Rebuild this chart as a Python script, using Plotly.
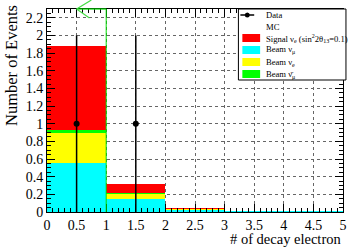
import plotly.graph_objects as go

# ---- data ----
bin_centers = [0.5, 1.5, 2.5, 3.5, 4.5]
beam_numu = [0.56, 0.143, 0.028, 0.003, 0.002]
beam_nue = [0.335, 0.067, 0.006, 0.0, 0.0]
beam_numubar = [0.03, 0.01, 0.005, 0.0, 0.0]
signal_nue = [0.955, 0.096, 0.002, 0.0, 0.0]
data_x = [0.5, 1.5]
data_y = [1, 1]
data_err = [1, 1]

series = [
    ("Beam ν<sub>μ</sub>", beam_numu, "#00FFFF"),
    ("Beam ν<sub>e</sub>", beam_nue, "#FFFF00"),
    ("Beam ν̄<sub>μ</sub>", beam_numubar, "#00FF00"),
    ("Signal ν<sub>e</sub> (sin<sup>2</sup>2θ<sub>13</sub>=0.1)", signal_nue, "#FF0000"),
]

W, H = 351, 249
L, R, T, B = 47, 4, 9, 37
PW, PH = W - L - R, H - T - B
YMAX = 2.3

def px2paper_x(px):
    return (px - L) / PW

def px2paper_y(py):
    return (H - B - py) / PH

FONT = "Liberation Serif, Times New Roman, serif"

fig = go.Figure()
for name, vals, col in series:
    fig.add_trace(go.Bar(x=bin_centers, y=vals, width=1.0, name=name,
                         marker=dict(color=col, line=dict(width=0)),
                         showlegend=False))

fig.add_trace(go.Scatter(x=data_x, y=data_y, mode="markers",
                         marker=dict(color="black", size=6),
                         error_y=dict(type="data", array=data_err, color="black",
                                      thickness=1.5, width=0),
                         showlegend=False))

# green outline of the off-scale first bin
shapes = [
    dict(type="line", xref="x", yref="y", x0=1, x1=1, y0=0, y1=YMAX,
         line=dict(color="#00DD00", width=1), layer="above"),
    dict(type="line", xref="x", yref="paper", x0=0.5, x1=1, y0=1, y1=1,
         line=dict(color="#00DD00", width=1.2), layer="above"),
    dict(type="line", xref="paper", yref="paper",
         x0=px2paper_x(77), y0=px2paper_y(9), x1=px2paper_x(92), y1=px2paper_y(0),
         line=dict(color="#44DD44", width=1.2), layer="above"),
    dict(type="line", xref="paper", yref="paper",
         x0=px2paper_x(77), y0=px2paper_y(9), x1=px2paper_x(90), y1=px2paper_y(18),
         line=dict(color="#44DD44", width=1.2), layer="above"),
]

# legend box
shapes.append(dict(type="rect", xref="paper", yref="paper",
                   x0=px2paper_x(241), x1=px2paper_x(350),
                   y0=px2paper_y(80), y1=px2paper_y(9),
                   fillcolor="white", line=dict(color="black", width=1), layer="above"))
# data entry line
shapes.append(dict(type="line", xref="paper", yref="paper",
                   x0=px2paper_x(243), x1=px2paper_x(257),
                   y0=px2paper_y(15), y1=px2paper_y(15),
                   line=dict(color="black", width=1.5), layer="above"))
shapes.append(dict(type="circle", xref="paper", yref="paper",
                   x0=px2paper_x(247.5), x1=px2paper_x(252.5),
                   y0=px2paper_y(17.5), y1=px2paper_y(12.5),
                   fillcolor="black", line=dict(color="black", width=0), layer="above"))

LEG_FS = 8.6
annotations = [
    dict(text="Data", xref="paper", yref="paper", x=px2paper_x(267), y=px2paper_y(15),
         xanchor="left", yanchor="middle", showarrow=False, font=dict(family=FONT, size=LEG_FS)),
    dict(text="MC", xref="paper", yref="paper", x=px2paper_x(267), y=px2paper_y(27),
         xanchor="left", yanchor="middle", showarrow=False, font=dict(family=FONT, size=LEG_FS)),
]
legend_rows = [
    (series[3], 38),
    (series[0], 50),
    (series[1], 62),
    (series[2], 74),
]
for (name, vals, col), py in legend_rows:
    shapes.append(dict(type="rect", xref="paper", yref="paper",
                       x0=px2paper_x(245), x1=px2paper_x(263),
                       y0=px2paper_y(py + 4), y1=px2paper_y(py - 4),
                       fillcolor=col, line=dict(width=0), layer="above"))
    annotations.append(dict(text=name, xref="paper", yref="paper",
                            x=px2paper_x(267), y=px2paper_y(py),
                            xanchor="left", yanchor="middle", showarrow=False,
                            font=dict(family=FONT, size=LEG_FS)))

# axis titles
annotations.append(dict(text="# of decay electron", xref="paper", yref="paper",
                        x=1.0, y=px2paper_y(238.5), xanchor="right", yanchor="middle",
                        showarrow=False, font=dict(family=FONT, size=14.5, color="black")))
annotations.append(dict(text="Number of Events", xref="paper", yref="paper",
                        x=px2paper_x(11), y=px2paper_y(3), xanchor="center", yanchor="top",
                        textangle=-90, showarrow=False,
                        font=dict(family=FONT, size=16.5, color="black")))

axis_common = dict(
    showline=True, linecolor="black", linewidth=1, mirror="allticks",
    ticks="inside", ticklen=8, tickcolor="black", tickwidth=1,
    showgrid=True, gridcolor="#666666", griddash="dot", gridwidth=1,
    zeroline=False, tickfont=dict(family=FONT, size=14, color="black"),
)

fig.update_layout(
    width=W, height=H,
    margin=dict(l=L, r=R, t=T, b=B),
    paper_bgcolor="white", plot_bgcolor="white",
    font=dict(family=FONT, color="black"),
    barmode="stack", bargap=0,
    showlegend=False,
    xaxis=dict(range=[0, 5], dtick=0.5, tick0=0,
               minor=dict(dtick=0.1, ticklen=4, ticks="inside", tickcolor="black", showgrid=False),
               **axis_common),
    yaxis=dict(range=[0, YMAX], dtick=0.2, tick0=0,
               minor=dict(dtick=0.05, ticklen=4, ticks="inside", tickcolor="black", showgrid=False),
               **axis_common),
    shapes=shapes,
    annotations=annotations,
)

fig.write_html("out.html", config={"displayModeBar": False},
               post_script="document.body.style.margin='0px';document.body.style.overflow='hidden';")
